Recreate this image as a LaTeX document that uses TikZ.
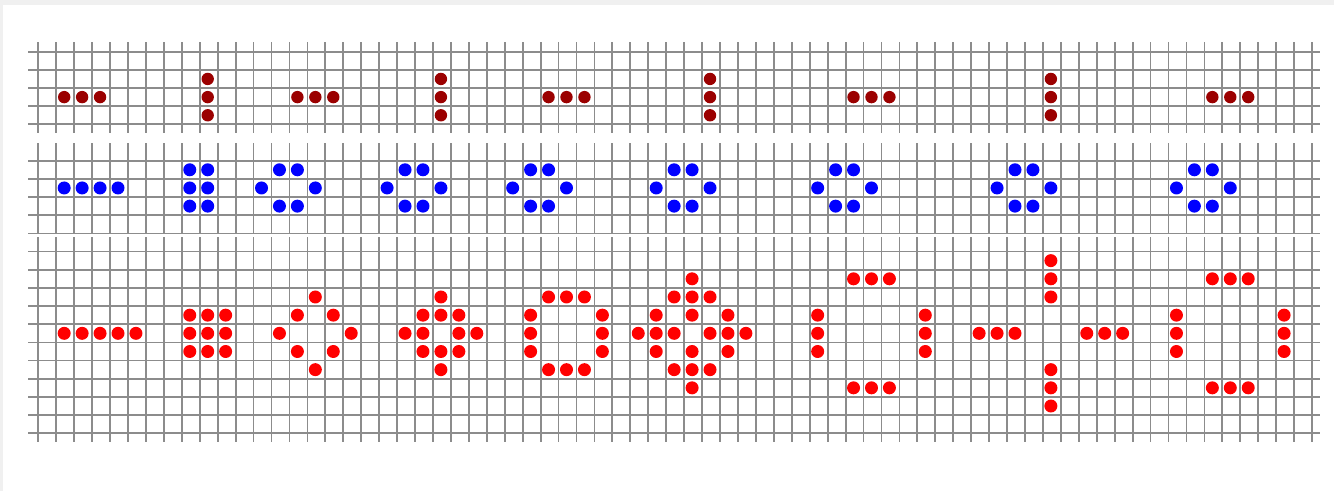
\documentclass[tikz,border=0pt]{standalone}
\definecolor{gridgray}{RGB}{140,140,140}
\definecolor{darkreddot}{RGB}{155,0,0}
\definecolor{bluedot}{RGB}{0,0,255}
\definecolor{reddot}{RGB}{255,0,0}
\definecolor{framegray}{RGB}{240,240,240}
\tikzset{
  gridline/.style={draw=gridgray, line width=1.8pt},
  celldot/.style={fill=#1},
}
\newcommand{\cx}[1]{28.3+17.94*#1}
\newcommand{\cy}[1]{42.6+18.17*#1}
\begin{document}
\begin{tikzpicture}[x=1pt,y=-1pt]
\useasboundingbox (0,0) rectangle (1334,491);
\fill[framegray] (0,0) rectangle (1334,491);
\fill[white] (3,5) rectangle (1334,491);
% vertical lines (three bands)
\foreach \i in {0,...,71}{
  \draw[gridline] ({38.3+17.94*\i},42) -- ({38.3+17.94*\i},133);
  \draw[gridline] ({38.3+17.94*\i},143) -- ({38.3+17.94*\i},233);
  \draw[gridline] ({38.3+17.94*\i},237) -- ({38.3+17.94*\i},441.7);
}
% horizontal lines
\foreach \k in {0,1,2,3,4,6,7,8,9,10,11,12,13,14,15,16,17,18,19,20,21}{
  \draw[gridline] (28.3,{51.7+18.17*\k}) -- (1320,{51.7+18.17*\k});
}
% band 1: blinkers
\foreach \c/\r in {2/3,3/3,4/3, 10/2,10/3,10/4, 15/3,16/3,17/3, 23/2,23/3,23/4,
  29/3,30/3,31/3, 38/2,38/3,38/4, 46/3,47/3,48/3, 57/2,57/3,57/4, 66/3,67/3,68/3}{
  \fill[celldot=darkreddot] ({\cx{\c}},{\cy{\r}}) circle[radius=6.2pt];
}
% band 2
\foreach \c/\r in {2/8,3/8,4/8,5/8, 9/7,10/7,9/8,10/8,9/9,10/9,
  13/8,14/7,15/7,14/9,15/9,16/8,
  20/8,21/7,22/7,21/9,22/9,23/8,
  27/8,28/7,29/7,28/9,29/9,30/8,
  35/8,36/7,37/7,36/9,37/9,38/8,
  44/8,45/7,46/7,45/9,46/9,47/8,
  54/8,55/7,56/7,55/9,56/9,57/8,
  64/8,65/7,66/7,65/9,66/9,67/8}{
  \fill[celldot=bluedot] ({\cx{\c}},{\cy{\r}}) circle[radius=6.5pt];
}
% band 3
\foreach \c/\r in {2/16,3/16,4/16,5/16,6/16,
  9/15,10/15,11/15,9/16,10/16,11/16,9/17,10/17,11/17,
  14/16,15/15,15/17,16/14,16/18,17/15,17/17,18/16,
  23/14,22/15,23/15,24/15,21/16,22/16,24/16,25/16,22/17,23/17,24/17,23/18,
  29/14,30/14,31/14,28/15,28/16,28/17,32/15,32/16,32/17,29/18,30/18,31/18,
  37/13,36/14,37/14,38/14,35/15,37/15,39/15,34/16,35/16,36/16,38/16,39/16,40/16,
  35/17,37/17,39/17,36/18,37/18,38/18,37/19,
  44/15,44/16,44/17,46/13,47/13,48/13,46/19,47/19,48/19,50/15,50/16,50/17,
  57/12,57/13,57/14,57/18,57/19,57/20,53/16,54/16,55/16,59/16,60/16,61/16,
  64/15,64/16,64/17,66/13,67/13,68/13,66/19,67/19,68/19,70/15,70/16,70/17}{
  \fill[celldot=reddot] ({\cx{\c}},{\cy{\r}}) circle[radius=6.5pt];
}
\end{tikzpicture}
\end{document}
